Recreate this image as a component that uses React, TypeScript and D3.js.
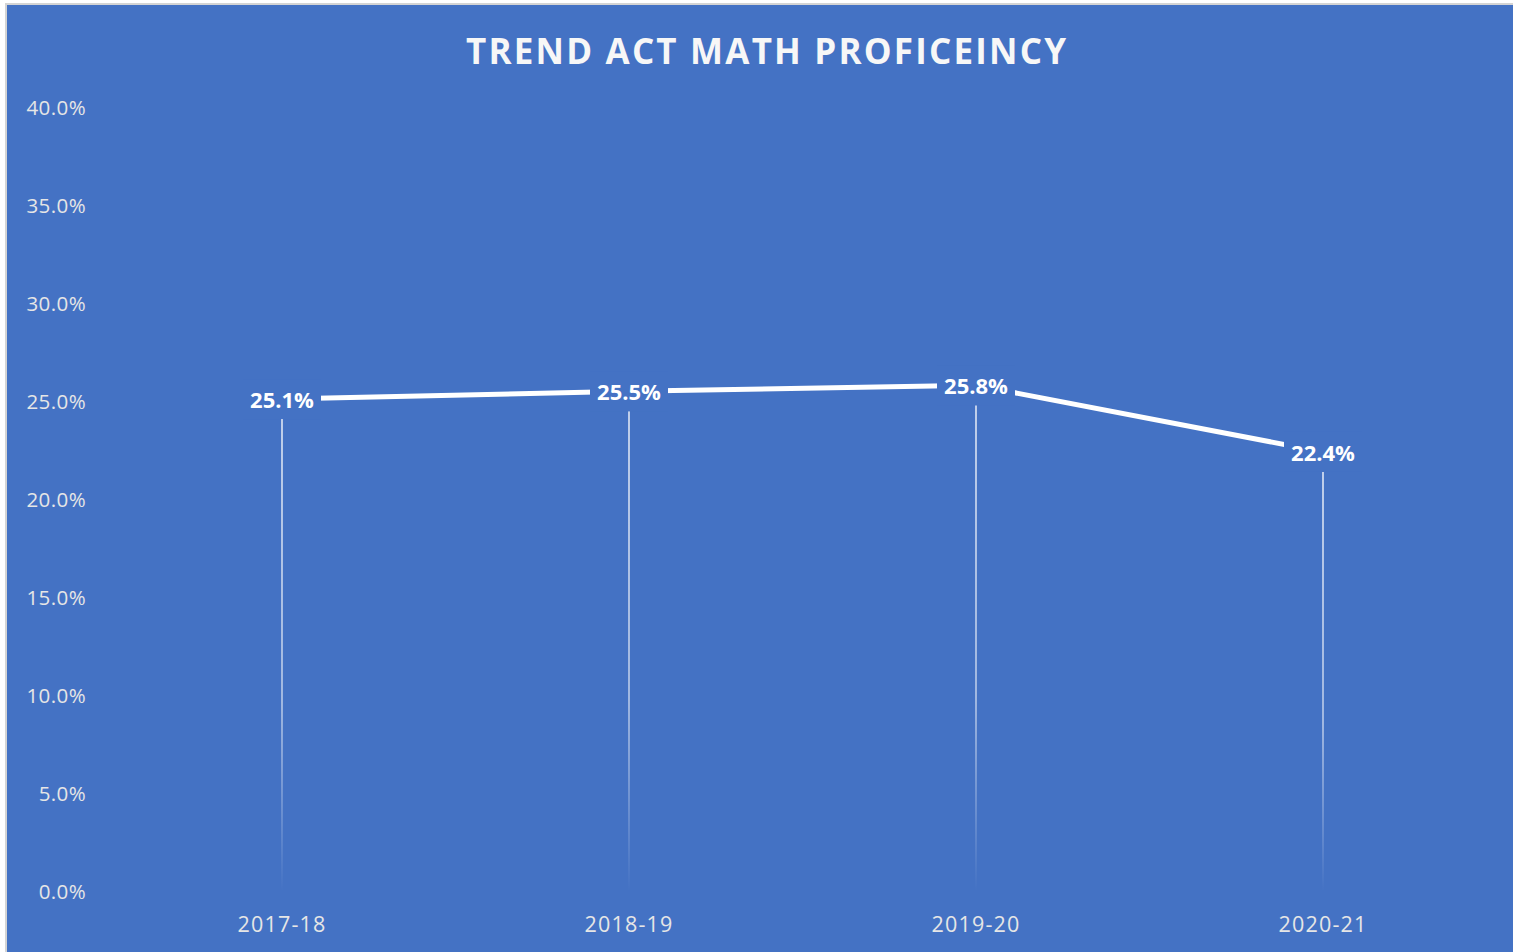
import React from "react";
import * as d3 from "d3";

const categories = ["2017-18", "2018-19", "2019-20", "2020-21"];
const values = [25.1, 25.5, 25.8, 22.4];
const yTicks = [0, 5, 10, 15, 20, 25, 30, 35, 40];
const title = "TREND ACT MATH PROFICEINCY";

const W = 1513;
const H = 952;
const BLUE = "#4472C4";

export default function App() {
  const x = d3.scaleBand<string>().domain(categories).range([108.5, 1496.5]).padding(0);
  const y = d3.scaleLinear().domain([0, 40]).range([891, 107]);
  const cx = (c: string) => (x(c) as number) + x.bandwidth() / 2;
  const pts = categories.map((c, i) => ({ c, v: values[i], px: cx(c), py: y(values[i]) }));
  const line = d3
    .line<{ px: number; py: number }>()
    .x((d) => d.px)
    .y((d) => d.py);
  const font = "'Open Sans', 'Noto Sans', sans-serif";

  return (
    <div style={{ position: "absolute", left: 0, top: 0 }}>
      <svg width={W} height={H} style={{ display: "block" }}>
        <defs>
          {pts.map((p, i) => (
            <linearGradient
              key={i}
              id={`drop${i}`}
              gradientUnits="userSpaceOnUse"
              x1={0}
              x2={0}
              y1={p.py + 20}
              y2={y(0)}
            >
              <stop offset="0" stopColor="#dfe6f4" stopOpacity={1} />
              <stop offset="0.6" stopColor="#dfe6f4" stopOpacity={0.75} />
              <stop offset="1" stopColor="#dfe6f4" stopOpacity={0} />
            </linearGradient>
          ))}
        </defs>
        <rect x={5} y={3} width={W} height={H} fill="#d4d4d4" />
        <rect x={7} y={5} width={W} height={H} fill={BLUE} />
        <text
          x={466}
          y={64}
          textLength={600}
          lengthAdjust="spacing"
          fill="#f7f7f7"
          fontFamily={font}
          fontWeight={700}
          fontSize={35}
        >
          {title}
        </text>
        {yTicks.map((t) => (
          <text
            key={t}
            x={86}
            y={y(t) + 8}
            textAnchor="end"
            fill="#e6e6e6"
            fontFamily={font}
            fontSize={20.5}
            letterSpacing={0.4}
          >
            {t.toFixed(1) + "%"}
          </text>
        ))}
        {categories.map((c) => (
          <text
            key={c}
            x={cx(c)}
            y={932}
            textAnchor="middle"
            fill="#e6e6e6"
            fontFamily={font}
            fontSize={21.5}
            letterSpacing={1.2}
          >
            {c}
          </text>
        ))}
        {pts.map((p, i) => (
          <line
            key={i}
            x1={p.px}
            x2={p.px}
            y1={p.py + 20}
            y2={y(0)}
            stroke={`url(#drop${i})`}
            strokeWidth={1.6}
          />
        ))}
        <path d={line(pts) || ""} fill="none" stroke="#ffffff" strokeWidth={5} />
        {pts.map((p, i) => (
          <g key={i}>
            <rect x={p.px - 39} y={p.py - 20} width={78} height={40} fill={BLUE} />
            <text
              x={p.px}
              y={p.py + 9}
              textAnchor="middle"
              fill="#ffffff"
              fontFamily={font}
              fontWeight={700}
              fontSize={22}
            >
              {p.v.toFixed(1) + "%"}
            </text>
          </g>
        ))}
      </svg>
    </div>
  );
}
